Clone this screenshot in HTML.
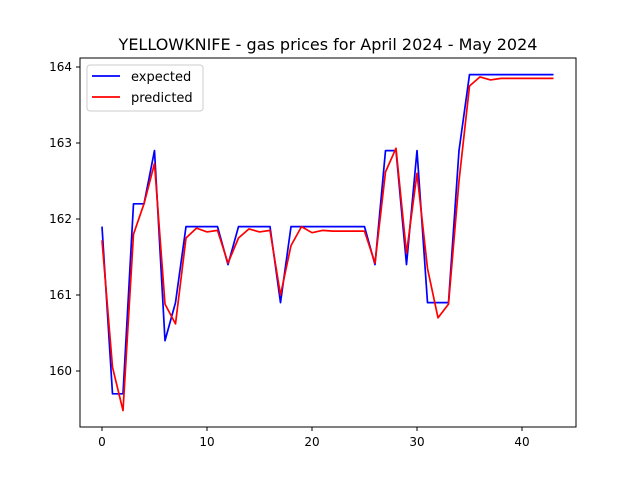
<!DOCTYPE html>
<html><head><meta charset="utf-8"><style>
body{margin:0;background:#fff;}
svg{display:block;font-family:"DejaVu Sans","Liberation Sans",sans-serif;}
</style></head><body>
<svg id="chart" width="640" height="480" viewBox="0 0 640 480">
<rect width="640" height="480" fill="#fff"/>
<text x="328" y="50" font-size="16" text-anchor="middle">YELLOWKNIFE - gas prices for April 2024 - May 2024</text>
<g id="plot"></g>
<rect x="80" y="58" width="496" height="369" fill="none" stroke="#000" stroke-width="1"/>
<g>
<rect x="87" y="65" width="116" height="46" rx="3" fill="#fff" stroke="#ccc"/>
<line x1="92" y1="76" x2="120" y2="76" stroke="#0000ff" stroke-width="1.7"/>
<text x="131" y="81" font-size="13">expected</text>
<line x1="92" y1="97" x2="120" y2="97" stroke="#ff0000" stroke-width="1.7"/>
<text x="131" y="102" font-size="13">predicted</text>
</g>
</svg>
<script>
const expected=[161.9,159.7,159.7,162.2,162.2,162.9,160.4,160.9,161.9,161.9,161.9,161.9,161.4,161.9,161.9,161.9,161.9,160.9,161.9,161.9,161.9,161.9,161.9,161.9,161.9,161.9,161.4,162.9,162.9,161.4,162.9,160.9,160.9,160.9,162.9,163.9,163.9,163.9,163.9,163.9,163.9,163.9,163.9,163.9];
const predicted=[161.72,160.05,159.48,161.8,162.2,162.73,160.88,160.62,161.75,161.88,161.83,161.85,161.42,161.75,161.87,161.83,161.85,161.0,161.65,161.9,161.82,161.85,161.84,161.84,161.84,161.84,161.42,162.62,162.93,161.55,162.6,161.35,160.7,160.88,162.5,163.75,163.87,163.83,163.85,163.85,163.85,163.85,163.85,163.85];
const xTicks=[0,10,20,30,40];
const yTicks=[160,161,162,163,164];
const NS="http://www.w3.org/2000/svg";
const sx=v=>102+v*10.5;
const sy=v=>67+(164-v)*76;
const plot=document.getElementById('plot');
function mk(t,a){const e=document.createElementNS(NS,t);for(const k in a)e.setAttribute(k,a[k]);plot.appendChild(e);return e;}
xTicks.forEach(t=>{
 const l=mk('line',{x1:sx(t),x2:sx(t),y1:427,y2:431,stroke:'#000'});
 
 
 const tx=mk('text',{x:sx(t),y:446,'font-size':12,'text-anchor':'middle'});tx.textContent=t;
 
 
});
yTicks.forEach(t=>{
 const l=mk('line',{x1:76,x2:80,y1:sy(t),y2:sy(t),stroke:'#000'});
 
 
 const tx=mk('text',{x:72,y:sy(t)+4,'font-size':12,'text-anchor':'end'});tx.textContent=t;
 
 
});
function line(d,c,n){
 const p=mk('polyline',{points:d.map((v,i)=>sx(i)+','+sy(v)).join(' '),fill:'none',stroke:c,'stroke-width':1.7,'stroke-linejoin':'round'});
 
 
}
line(expected,'#0000ff','expected-line');
line(predicted,'#ff0000','predicted-line');
</script>
</body></html>
